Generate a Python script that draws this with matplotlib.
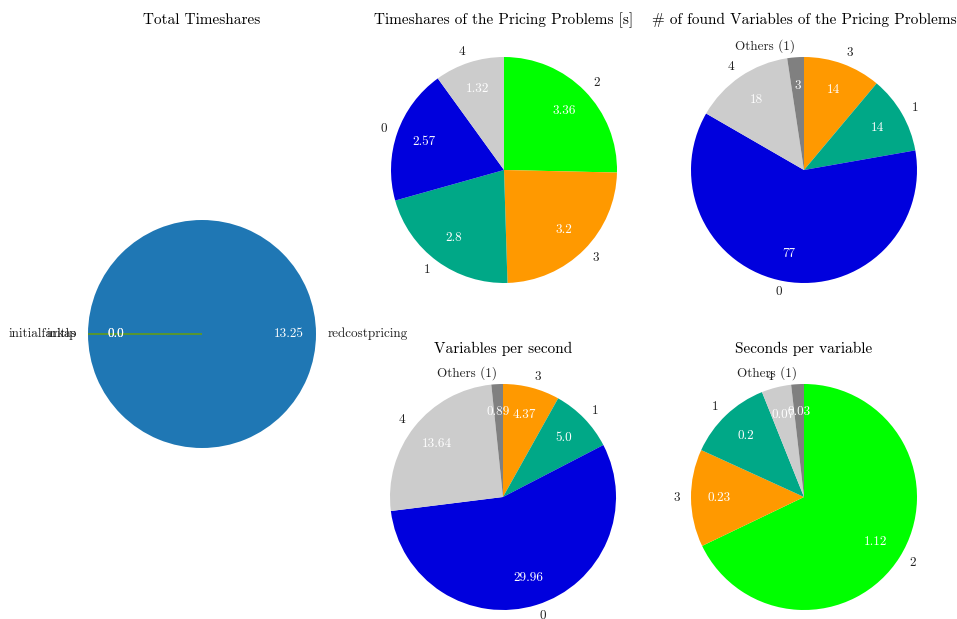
import matplotlib
matplotlib.use("Agg")
import matplotlib.pyplot as plt

plt.rcParams['font.family'] = 'cmr10'
plt.rcParams['axes.formatter.use_mathtext'] = True

# daten
total_labels = ["redcostpricing", "initialfarkas", "initlp"]
total_values = [13.25, 0.0, 0.0]

time_labels = ["2", "3", "1", "0", "4"]
time_values = [3.36, 3.2, 2.8, 2.57, 1.32]

vars_labels = ["3", "1", "0", "4", "Others (1)"]
vars_values = [14, 14, 77, 18, 3]

vps_labels = ["3", "1", "0", "4", "Others (1)"]
vps_values = [4.37, 5.0, 29.96, 13.64, 0.89]

spv_labels = ["2", "3", "1", "4", "Others (1)"]
spv_values = [1.12, 0.23, 0.2, 0.07, 0.03]

colores = {"0": "#0000dd", "1": "#00a887", "2": "#00ff00", "3": "#ff9900",
           "4": "#cccccc", "Others (1)": "#808080"}

W, H = 957, 619
fig = plt.figure(figsize=(W / 100, H / 100), dpi=100)


def eje_pixel(cx, cy, r):
    # crea un eje cuadrado centrado en (cx, cy) en pixeles
    lado = 2 * 1.25 * r
    return fig.add_axes([(cx - 1.25 * r) / W, 1 - (cy + 1.25 * r) / H, lado / W, lado / H])


def formato(valores, entero=False):
    total = sum(valores)

    def f(pct):
        v = pct * total / 100.0
        if entero:
            return str(int(round(v)))
        return str(round(v, 2))
    return f


def pintar_blanco(textos):
    for t in textos:
        t.set_color('white')


# Total timeshares
ax0 = eje_pixel(202, 334, 114)
wedges, labs, pcts = ax0.pie(total_values, labels=total_labels, autopct=formato(total_values),
                             startangle=180, pctdistance=0.76, labeldistance=1.1,
                             textprops={'fontsize': 9.5, 'color': '#222222'})
pintar_blanco(pcts)
# las porciones vacias se ven como una linea
for w, v in zip(wedges, total_values):
    if v == 0:
        w.set_edgecolor(w.get_facecolor())
        w.set_linewidth(1.0)
ax0.set_xlim(-1.25, 1.25)
ax0.set_ylim(-1.25, 1.25)
fig.text(202 / W, 1 - 20 / H, "Total Timeshares", ha='center', va='center', fontsize=11)

paneles = [
    (504, 170, time_labels, time_values, False, "Timeshares of the Pricing Problems [s]", 20),
    (804, 170, vars_labels, vars_values, True, "# of found Variables of the Pricing Problems", 20),
    (503, 497, vps_labels, vps_values, False, "Variables per second", 349),
    (804, 497, spv_labels, spv_values, False, "Seconds per variable", 349),
]

for cx, cy, etiquetas, valores, entero, titulo, ty in paneles:
    ax = eje_pixel(cx, cy, 113)
    w, l, p = ax.pie(valores, labels=etiquetas, colors=[colores[e] for e in etiquetas],
                     autopct=formato(valores, entero), startangle=90, counterclock=False,
                     pctdistance=0.75, labeldistance=1.1,
                     textprops={'fontsize': 9.5, 'color': '#222222'})
    pintar_blanco(p)
    ax.set_xlim(-1.25, 1.25)
    ax.set_ylim(-1.25, 1.25)
    fig.text(cx / W, 1 - ty / H, titulo, ha='center', va='center', fontsize=11)

fig.savefig("out.png", dpi=100)
